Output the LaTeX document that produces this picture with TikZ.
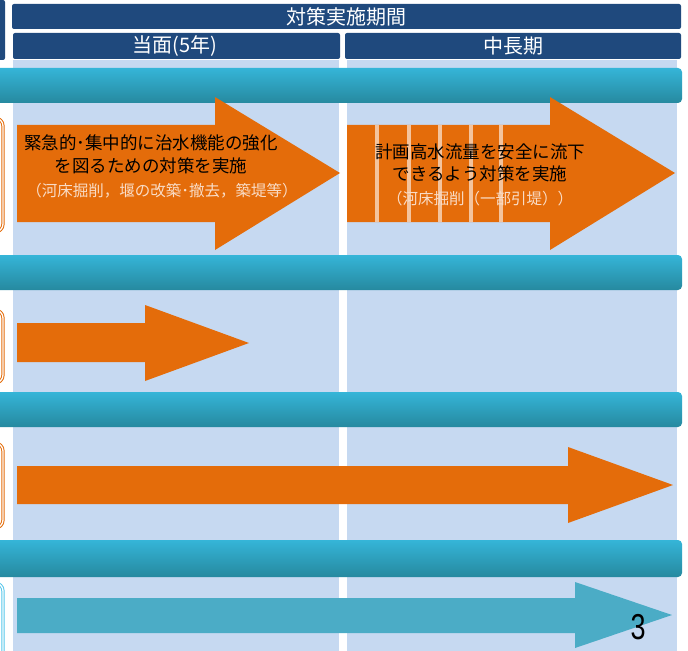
\documentclass[tikz,border=0pt]{standalone}
\usepackage{fontspec}
\setmainfont{Liberation Sans}
\newfontfamily\jp{Noto Sans CJK JP}
\usetikzlibrary{positioning}
\definecolor{navy}{HTML}{1F497D}
\definecolor{paleblue}{HTML}{C6D9F1}
\definecolor{bandtop}{HTML}{35B5D8}
\definecolor{bandbot}{HTML}{26899F}
\definecolor{arroworange}{HTML}{E46C0A}
\definecolor{arrowteal}{HTML}{4BACC6}
\definecolor{peach}{HTML}{F9DCC6}
\definecolor{sidecyan}{HTML}{55C6EA}

\begin{document}
\begin{tikzpicture}[x=1bp, y=-1bp,
    bar/.style={fill=navy, rounded corners=2bp},
    col/.style={fill=paleblue},
    band/.style={top color=bandtop, bottom color=bandbot, rounded corners=4bp},
    sidebox/.style={rounded corners=8bp, line width=1bp, double=white, double distance=1.3bp},
    head/.style={font=\jp\fontsize{20bp}{22bp}\selectfont, text=white, inner sep=0},
    msg/.style={font=\jp\fontsize{17.5bp}{20bp}\selectfont, inner sep=0, text height=15.4bp, text depth=2.1bp},
    note/.style={font=\jp\fontsize{15.5bp}{18bp}\selectfont, text=peach, inner sep=0, text height=13.6bp, text depth=1.9bp}]
    \useasboundingbox (0,0) rectangle (688,651);
    \clip (0,0) rectangle (688,651);
    % columns
    \fill[col] (13,60) rectangle (339,651);
    \fill[col] (347,60) rectangle (677,651);
    % header
    \fill[bar] (-20,0) rectangle (5,60);
    \fill[bar] (12,4) rectangle (681,29);
    \fill[bar] (13,33) rectangle (340,59);
    \fill[bar] (345,33) rectangle (681,59);
    \node[head] (period) at (346,17) {対策実施期間};
    \node[head] (short) at (175,46) {当面(5年)};
    \node[head] (long) at (513,46) {中長期};
    % bands and side boxes
    \foreach \t/\b in {68/103, 255/290, 392/427, 540/577}
        \shade[band] (-20,\t) rectangle (682,\b);
    \foreach \t/\b/\c in {118/232/arroworange, 310/383/arroworange, 443/528/arroworange, 583/670/sidecyan}
        \draw[sidebox, draw=\c] (-40,\t) rectangle (3,\b);
    % arrows
    \fill[arroworange] (17,125) -- (215,125) -- (215,97) -- (340,173) -- (215,250) -- (215,222) -- (17,222) -- cycle;
    \fill[arroworange] (347,125) -- (550,125) -- (550,97) -- (675,173) -- (550,250) -- (550,222) -- (347,222) -- cycle;
    \foreach \g in {377, 408.5, 439.5, 470.5, 501}
        \fill[white, opacity=0.6] (\g-2,125) rectangle (\g+2,222);
    \fill[arroworange] (17,323) -- (145,323) -- (145,305) -- (249,343) -- (145,381) -- (145,362) -- (17,362) -- cycle;
    \fill[arroworange] (17,466) -- (568,466) -- (568,447) -- (673,485) -- (568,523) -- (568,504) -- (17,504) -- cycle;
    \fill[arrowteal] (17,598) -- (575,598) -- (575,582) -- (672,615) -- (575,648) -- (575,633) -- (17,633) -- cycle;
    % texts
    \node[msg] (urgent1) at (151,143) {緊急的･集中的に治水機能の強化};
    \node[msg, below=4.5bp of urgent1] (urgent2) {を図るための対策を実施};
    \node[note, below=8bp of urgent2, xshift=11bp] (urgentnote) {（河床掘削，堰の改築･撤去，築堤等）};
    \node[msg] (plan1) at (480,152) {計画高水流量を安全に流下};
    \node[msg, below=3.5bp of plan1] (plan2) {できるよう対策を実施};
    \node[note, below=8bp of plan2] (plannote) {（河床掘削（一部引堤））};
    \node[font=\fontsize{36bp}{36bp}\selectfont, xscale=0.75, inner sep=0] (pagenum) at (638,627) {3};
\end{tikzpicture}
\end{document}
